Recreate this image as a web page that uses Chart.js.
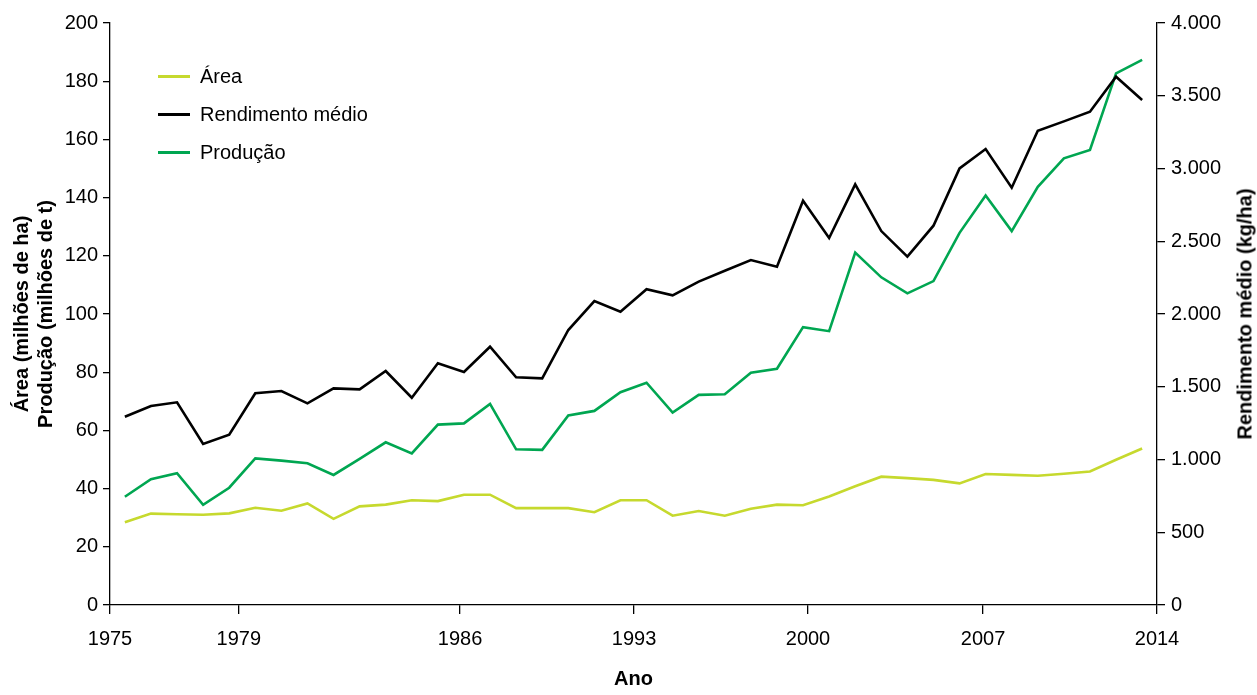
<!DOCTYPE html>
<html>
<head>
<meta charset="utf-8">
<script src="https://cdn.jsdelivr.net/npm/chart.js@4.4.1/dist/chart.umd.min.js"></script>
<style>
  html, body { margin: 0; padding: 0; background: #fff; }
  #wrap { position: relative; width: 1257px; height: 695px; font-family: "Liberation Sans", Arial, sans-serif; }
  #legend { position: absolute; left: 158px; top: 57px; font-size: 20px; color: #000; }
  #legend .row { height: 38px; line-height: 38px; white-space: nowrap; }
  #legend .sw { display: inline-block; width: 32px; height: 3px; vertical-align: middle; margin-right: 10px; position: relative; top: -1px; }
  #rtitle { position: absolute; left: 1245px; top: 314px; transform: translate(-50%, -50%) rotate(-90deg);
            font-weight: bold; font-size: 20px; white-space: nowrap; color: #000; }
</style>
</head>
<body>
<div id="wrap">
  <canvas id="chart"></canvas>
  <div id="legend"></div>
  <div id="rtitle">Rendimento médio (kg/ha)</div>
</div>
<script>
// anos (safras) no eixo x
const years = [1975, 1976, 1977, 1978, 1979, 1980, 1981, 1982, 1983, 1984,
               1985, 1986, 1987, 1988, 1989, 1990, 1991, 1992, 1993, 1994,
               1995, 1996, 1997, 1998, 1999, 2000, 2001, 2002, 2003, 2004,
               2005, 2006, 2007, 2008, 2009, 2010, 2011, 2012, 2013, 2014];

// milhões de ha
const area = [28.4, 31.4, 31.2, 31.0, 31.5, 33.4, 32.4, 34.9, 29.6, 33.9,
              34.5, 36.0, 35.7, 37.9, 37.9, 33.3, 33.3, 33.3, 31.9, 36.0,
              36.0, 30.7, 32.3, 30.7, 33.1, 34.5, 34.3, 37.3, 40.8, 44.1,
              43.6, 43.0, 41.8, 45.0, 44.7, 44.4, 45.1, 45.9, 49.9, 53.8];

// kg/ha
const rendimento = [1294, 1368, 1393, 1107, 1170, 1455, 1471, 1386, 1489, 1482,
                    1608, 1425, 1661, 1601, 1775, 1565, 1558, 1890, 2089, 2016,
                    2170, 2128, 2223, 2297, 2371, 2325, 2779, 2522, 2891, 2570,
                    2394, 2607, 3001, 3134, 2868, 3260, 3324, 3390, 3631, 3471];

// milhões de t
const producao = [37.2, 43.2, 45.3, 34.4, 40.3, 50.4, 49.6, 48.7, 44.7, 50.2,
                  55.9, 52.1, 62.0, 62.4, 69.1, 53.5, 53.3, 65.1, 66.7, 73.1,
                  76.4, 66.1, 72.2, 72.4, 79.8, 81.2, 95.5, 94.1, 121.1, 112.6,
                  107.1, 111.3, 127.9, 140.7, 128.5, 143.7, 153.5, 156.4, 182.7, 187.3];

const xTickLabels = ['1975', '1979', '1986', '1993', '2000', '2007', '2014'];
// onde cada rótulo fica no eixo (o original não é regular)
const xTickAt = [1974.43, 1979.37, 1987.85, 1994.52, 2001.19, 2007.90, 2014.57];

const FONT = { family: '"Liberation Sans", Arial, sans-serif', size: 20 };
const BOLD = { family: '"Liberation Sans", Arial, sans-serif', size: 20, weight: 'bold' };

function pts(vals){ return vals.map((v, i) => ({ x: years[i], y: v })); }
function milhar(v){ return String(v).replace(/\B(?=(\d{3})+(?!\d))/g, '.'); }

const series = [
  { label: 'Área', data: pts(area), color: '#c6d92e', axis: 'y' },
  { label: 'Rendimento médio', data: pts(rendimento), color: '#000000', axis: 'y2' },
  { label: 'Produção', data: pts(producao), color: '#00a651', axis: 'y' }
];

const axisLine = { display: true, color: '#000', width: 1.3 };

new Chart(document.getElementById('chart'), {
  type: 'line',
  data: {
    datasets: series.map(s => ({
      label: s.label, data: s.data, yAxisID: s.axis,
      borderColor: s.color, backgroundColor: s.color,
      borderWidth: 2.6, pointRadius: 0, tension: 0
    }))
  },
  options: {
    responsive: true, maintainAspectRatio: false, animation: false,
    layout: { padding: { top: 23, left: 0, right: 0, bottom: 0 } },
    plugins: { legend: { display: false }, tooltip: { enabled: false } },
    scales: {
      x: {
        type: 'linear', min: xTickAt[0], max: xTickAt[xTickAt.length - 1],
        afterBuildTicks: s => { s.ticks = xTickAt.map(v => ({ value: v })); },
        afterFit: s => { s.height = 90; },
        border: axisLine,
        grid: { drawOnChartArea: false, drawTicks: true, tickLength: 9, color: '#000', lineWidth: 1.3 },
        ticks: { autoSkip: false, maxRotation: 0, padding: 13, color: '#000', font: FONT,
                 callback: (v, i) => xTickLabels[i] },
        title: { display: true, text: 'Ano', color: '#000', font: BOLD, padding: { top: 19 } }
      },
      y: {
        position: 'left', min: 0, max: 200,
        afterFit: s => { s.width = 110; },
        border: axisLine,
        grid: { drawOnChartArea: false, drawTicks: true, tickLength: 7, color: '#000', lineWidth: 1.3 },
        ticks: { stepSize: 20, padding: 5, color: '#000', font: FONT },
        title: { display: true, text: ['Área (milhões de ha)', 'Produção (milhões de t)'],
                 color: '#000', font: BOLD, padding: { top: 10, bottom: 0 } }
      },
      y2: {
        position: 'right', min: 0, max: 4000,
        afterFit: s => { s.width = 100; },
        border: axisLine,
        grid: { drawOnChartArea: false, drawTicks: true, tickLength: 8, color: '#000', lineWidth: 1.3 },
        ticks: { stepSize: 500, padding: 6, color: '#000', font: FONT, callback: v => milhar(v) }
      }
    }
  }
});

// legenda dentro do gráfico
const leg = document.getElementById('legend');
series.forEach(s => {
  const row = document.createElement('div');
  row.className = 'row';
  row.innerHTML = '<span class="sw" style="background:' + s.color + '"></span>' + s.label;
  leg.appendChild(row);
});
</script>
</body>
</html>
